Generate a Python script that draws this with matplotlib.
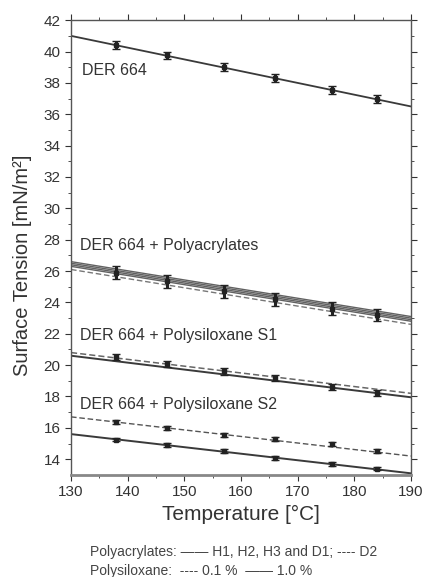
import matplotlib
matplotlib.use('Agg')
import matplotlib.pyplot as plt

plt.rcParams['font.family'] = ['Liberation Sans', 'DejaVu Sans']

# Measured temperatures and fitted line ends
temps = [138, 147, 157, 166, 176, 184]
fit_x = [130, 190]

# DER 664
der_pts = [40.4, 39.75, 39.0, 38.3, 37.55, 36.95]
der_err = [0.25, 0.25, 0.25, 0.25, 0.25, 0.25]
der_fit = [41.0, 36.5]

# DER 664 + Polyacrylates (H1, H2, H3, D1 solid; D2 dashed)
pa_pts = [25.9, 25.35, 24.7, 24.2, 23.6, 23.2]
pa_err = [0.4, 0.4, 0.4, 0.4, 0.4, 0.4]
pa_fit_h1 = [26.5, 23.0]
pa_fit_h2 = [26.4, 22.9]
pa_fit_h3 = [26.6, 23.1]
pa_fit_d1 = [26.3, 22.8]
pa_fit_d2 = [26.1, 22.6]

# DER 664 + Polysiloxane S1
s1_pts = [20.5, 20.05, 19.6, 19.2, 18.6, 18.2]
s1_err = [0.2, 0.2, 0.2, 0.2, 0.2, 0.2]
s1_fit_01 = [20.8, 18.2]
s1_fit_10 = [20.6, 17.95]

# DER 664 + Polysiloxane S2
s2_pts_01 = [16.35, 16.0, 15.55, 15.3, 14.95, 14.5]
s2_pts_10 = [15.25, 14.9, 14.5, 14.1, 13.7, 13.4]
s2_err = [0.12, 0.12, 0.12, 0.12, 0.12, 0.12]
s2_fit_01 = [16.7, 14.2]
s2_fit_10 = [15.6, 13.1]

labels = ['DER 664', 'DER 664 + Polyacrylates',
          'DER 664 + Polysiloxane S1', 'DER 664 + Polysiloxane S2']
label_pos = [(132.0, 38.8), (131.6, 27.6), (131.6, 21.9), (131.6, 17.5)]

x_ticks = [130, 140, 150, 160, 170, 180, 190]
y_ticks = [14, 16, 18, 20, 22, 24, 26, 28, 30, 32, 34, 36, 38, 40, 42]

lc = '#3a3a3a'
fig = plt.figure(figsize=(4.28, 5.77), dpi=100)
ax = fig.add_axes([0.166, 0.177, 0.794, 0.788])

# fitted lines
ax.plot(fit_x, der_fit, color=lc, lw=1.3)
for f in [pa_fit_h1, pa_fit_h2, pa_fit_h3, pa_fit_d1]:
    ax.plot(fit_x, f, color=lc, lw=1.0, alpha=0.8)
ax.plot(fit_x, pa_fit_d2, color='#777777', lw=1.0, ls=(0, (4, 2)))
ax.plot(fit_x, s1_fit_01, color='#666666', lw=1.1, ls=(0, (4, 2)))
ax.plot(fit_x, s1_fit_10, color=lc, lw=1.4)
ax.plot(fit_x, s2_fit_01, color='#555555', lw=1.0, ls=(0, (4, 2)))
ax.plot(fit_x, s2_fit_10, color=lc, lw=1.4)

# measured points with error bars
eb = dict(fmt='s', color='#222222', ms=3, elinewidth=2.2, capsize=3, capthick=1.0)
ax.errorbar(temps, der_pts, yerr=der_err, **eb)
ax.errorbar(temps, pa_pts, yerr=pa_err, **eb)
ax.errorbar(temps, s1_pts, yerr=s1_err, **eb)
ax.errorbar(temps, s2_pts_01, yerr=s2_err, **eb)
ax.errorbar(temps, s2_pts_10, yerr=s2_err, **eb)

for txt, (tx, ty) in zip(labels, label_pos):
    ax.text(tx, ty, txt, fontsize=11.5, color='#333333', va='center')

ax.set_xlim(130, 190)
ax.set_ylim(13, 42)
ax.set_xticks(x_ticks)
ax.set_xticks([135, 145, 155, 165, 175, 185], minor=True)
ax.set_yticks(y_ticks)
ax.set_yticks([y + 1 for y in y_ticks[:-1]], minor=True)
ax.tick_params(axis='both', which='both', top=True, right=True, labelsize=11,
               colors='#333333')
ax.tick_params(axis='both', which='major', length=4)
ax.tick_params(axis='both', which='minor', length=2)
for s in ax.spines.values():
    s.set_color('#555555')
    s.set_linewidth(1.0)
ax.spines['bottom'].set_linewidth(2.0)
ax.spines['bottom'].set_color('#888888')

ax.set_xlabel('Temperature [°C]', fontsize=15, color='#333333', labelpad=4)
ax.set_ylabel('Surface Tension [mN/m²]', fontsize=14.5, color='#333333')
ax.yaxis.set_label_coords(-0.115, 0.46)

fig.text(0.21, 0.043, 'Polyacrylates: —— H1, H2, H3 and D1; ---- D2',
         fontsize=10, color='#444444', va='center')
fig.text(0.21, 0.011, 'Polysiloxane:  ---- 0.1 %  —— 1.0 %',
         fontsize=10, color='#444444', va='center')

fig.savefig('out.png', dpi=100)
